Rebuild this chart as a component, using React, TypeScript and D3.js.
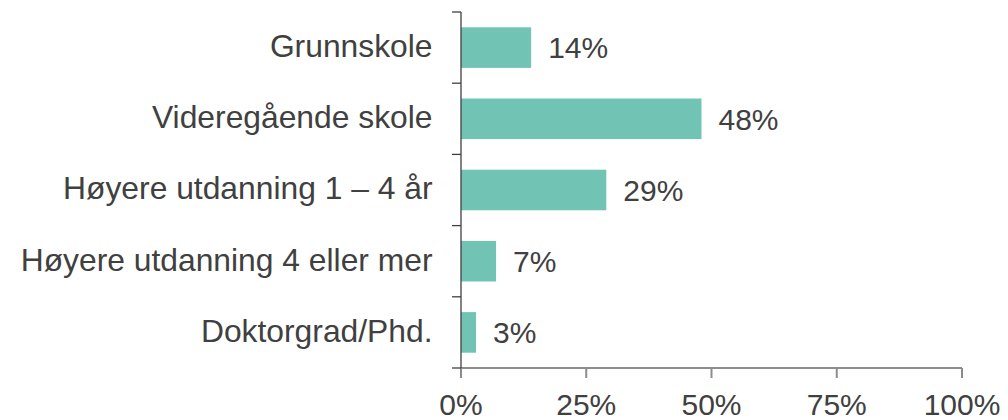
import React from "react";
import * as d3 from "d3";

const categories = [
  "Grunnskole",
  "Videregående skole",
  "Høyere utdanning 1 – 4 år",
  "Høyere utdanning 4 eller mer",
  "Doktorgrad/Phd.",
];
const values = [14, 48, 29, 7, 3];
const xTicks = [0, 25, 50, 75, 100];

const W = 1008;
const H = 420;
const X0 = 461;
const X1 = 962;
const Y0 = 12;
const Y1 = 368;
const FONT = "'Liberation Sans', Arial, sans-serif";
const TEXT = "#404040";
const BAR = "#71C4B4";

export default function App() {
  const x = d3.scaleLinear().domain([0, 100]).range([X0, X1]);
  const y = d3.scaleBand<string>().domain(categories).range([Y0, Y1]).paddingInner(0.43).paddingOuter(0.215);
  const band = d3.scaleBand<string>().domain(categories).range([Y0, Y1]);
  const bounds = d3.range(categories.length + 1).map((i) => Y0 + i * band.step());

  return (
    <svg width={W} height={H} style={{ position: "absolute", left: 0, top: 0 }}>
      <rect width={W} height={H} fill="#fff" />
      {categories.map((c, i) => (
        <g key={c}>
          <rect x={x(0)} y={y(c)!} width={x(values[i]) - x(0)} height={y.bandwidth()} fill={BAR} />
          <text
            x={x(values[i]) + 17}
            y={band(c)! + band.bandwidth() / 2}
            dy="0.36em"
            fontFamily={FONT}
            fontSize={30}
            fill={TEXT}
          >
            {values[i]}%
          </text>
          <text
            x={432.5}
            y={band(c)! + band.bandwidth() / 2 - 2}
            dy="0.36em"
            textAnchor="end"
            fontFamily={FONT}
            fontSize={31.8}
            fill={TEXT}
          >
            {c}
          </text>
        </g>
      ))}
      {/* x axis */}
      <line x1={X0} x2={X1} y1={Y1} y2={Y1} stroke="#8c8c8c" strokeWidth={2} />
      {xTicks.map((t) => (
        <g key={t}>
          <line x1={x(t)} x2={x(t)} y1={Y1} y2={Y1 + 10} stroke="#8c8c8c" strokeWidth={2} />
          <text
            x={x(t)}
            y={414.5}
            textAnchor="middle"
            fontFamily={FONT}
            fontSize={30}
            fill={TEXT}
          >
            {t}%
          </text>
        </g>
      ))}
      {/* y axis */}
      <line x1={X0} x2={X0} y1={Y0} y2={Y1} stroke="#404040" strokeWidth={1.3} />
      {bounds.map((b, i) => (
        <line key={i} x1={X0 - 9} x2={X0} y1={b} y2={b} stroke="#404040" strokeWidth={1.3} />
      ))}
    </svg>
  );
}
